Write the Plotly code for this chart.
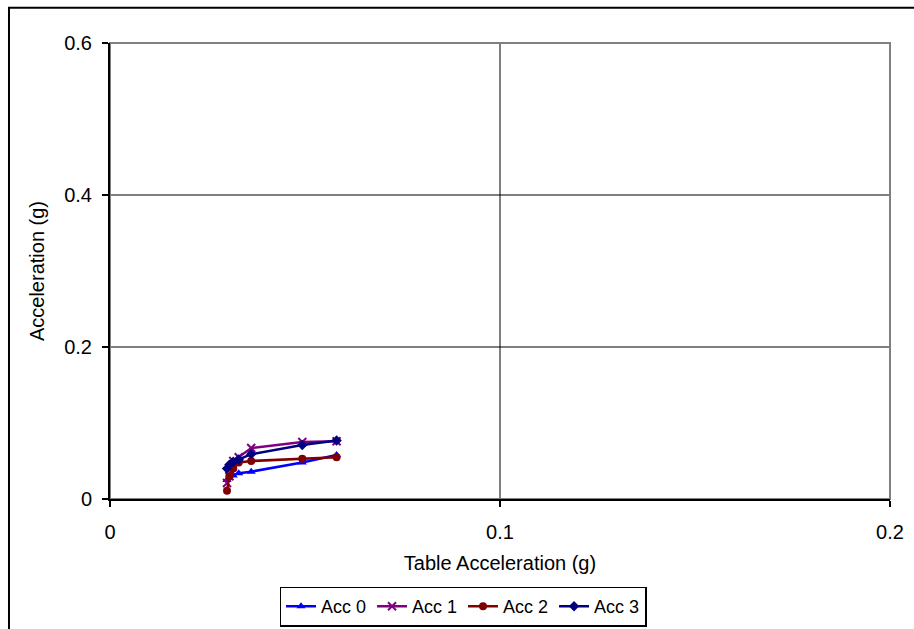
import plotly.graph_objects as go

# Table (input) acceleration, g
table_acc = [0.0300, 0.0306, 0.0316, 0.0330, 0.0362, 0.0493, 0.0581]

# Measured response at each accelerometer, g
acc0 = [0.025, 0.028, 0.031, 0.034, 0.036, 0.048, 0.058]
acc1 = [0.021, 0.030, 0.050, 0.055, 0.067, 0.075, 0.076]
acc2 = [0.011, 0.030, 0.040, 0.048, 0.050, 0.053, 0.055]
acc3 = [0.040, 0.045, 0.049, 0.052, 0.059, 0.071, 0.077]

series = [
    ("Acc 0", acc0, "#0000FF", "triangle-up"),
    ("Acc 1", acc1, "#800080", "x-thin-open"),
    ("Acc 2", acc2, "#800000", "circle"),
    ("Acc 3", acc3, "#000080", "diamond"),
]

x_ticks = [0, 0.1, 0.2]
x_tick_text = ["0", "0.1", "0.2"]
y_ticks = [0, 0.2, 0.4, 0.6]
y_tick_text = ["0", "0.2", "0.4", "0.6"]

fig = go.Figure()
for name, vals, color, symbol in series:
    marker = dict(symbol=symbol, size=8, color=color,
                  line=dict(color=color, width=2 if "thin" in symbol else 0))
    fig.add_trace(go.Scatter(
        x=table_acc, y=vals, name=name, mode="lines+markers",
        line=dict(color=color, width=2.5), marker=marker,
    ))

font = "Liberation Sans, Arial, sans-serif"

shapes = []
# interior gridlines
for xv in x_ticks[1:-1]:
    shapes.append(dict(type="line", xref="x", yref="paper", x0=xv, x1=xv, y0=0, y1=1,
                       line=dict(color="black", width=1), layer="below"))
for yv in y_ticks[1:-1]:
    shapes.append(dict(type="line", xref="paper", yref="y", x0=0, x1=1, y0=yv, y1=yv,
                       line=dict(color="black", width=1), layer="below"))
# plot-area frame (top and right in grey)
shapes.append(dict(type="rect", xref="paper", yref="paper", x0=0, x1=1, y0=0, y1=1,
                   line=dict(color="#808080", width=2), layer="below"))
# outer chart border
shapes.append(dict(type="rect", xref="paper", yref="paper",
                   x0=-0.1295, x1=1.05, y0=1.0775, y1=-0.32,
                   line=dict(color="black", width=2), layer="below"))

fig.update_layout(
    width=914, height=629,
    margin=dict(l=110, r=24, t=43, b=130, autoexpand=False),
    paper_bgcolor="white", plot_bgcolor="white",
    font=dict(family=font, size=20, color="black"),
    showlegend=True,
    legend=dict(orientation="h", x=0.4526, xanchor="center", y=-0.192, yanchor="top",
                bordercolor="black", borderwidth=1.5, font=dict(size=18),
                itemwidth=30, entrywidth=46, tracegroupgap=0, bgcolor="white"),
    shapes=shapes,
    xaxis=dict(range=[0, 0.2], tickvals=x_ticks, ticktext=x_tick_text, automargin=False,
               showgrid=False, zeroline=False, showline=True, linecolor="black", linewidth=2,
               ticks="outside", ticklen=6, tickwidth=2, tickcolor="black",
               ticklabelstandoff=8,
               title=dict(text="Table Acceleration (g)", standoff=14, font=dict(size=20))),
    yaxis=dict(range=[0, 0.6], tickvals=y_ticks, ticktext=y_tick_text, automargin=False,
               showgrid=False, zeroline=False, showline=True, linecolor="black", linewidth=2,
               ticks="outside", ticklen=6, tickwidth=2, tickcolor="black",
               ticklabelstandoff=6,
               title=dict(text="Acceleration (g)", standoff=14, font=dict(size=20))),
)

fig.write_html("out.html")
